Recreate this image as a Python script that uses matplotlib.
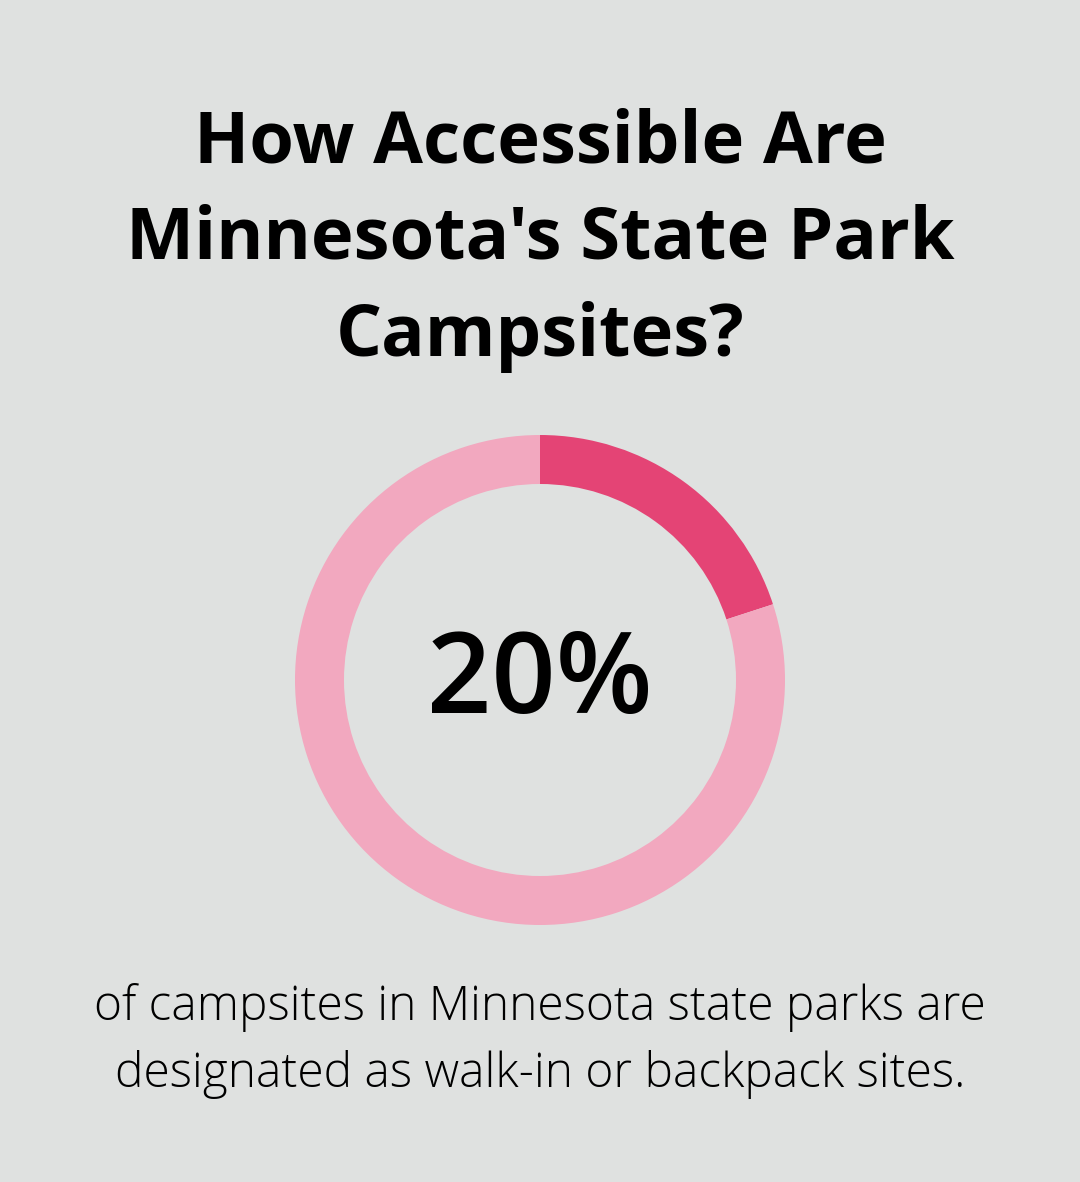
import matplotlib.pyplot as plt

title = "How Accessible Are\nMinnesota's State Park\nCampsites?"
share = [20, 80]
share_colors = ['#e44475', '#f2a8bf']
big_label = "20%"
caption = "of campsites in Minnesota state parks are\ndesignated as walk-in or backpack sites."

bg = '#dfe1e0'

fig = plt.figure(figsize=(10.8, 11.82), dpi=100, facecolor=bg)

fig.text(0.5, 1 - 240 / 1182, title, ha='center', va='center',
         fontsize=52, fontweight='bold', family='Open Sans',
         linespacing=1.45, color='#000000')

ax = fig.add_axes([295 / 1080, 1 - 925 / 1182, 490 / 1080, 490 / 1182])
ax.set_facecolor(bg)
ax.pie(share, colors=share_colors, startangle=90, counterclock=False,
       radius=1, wedgeprops=dict(width=0.2, linewidth=0))
ax.set_xlim(-1, 1)
ax.set_ylim(-1, 1)
ax.set_aspect('equal')
ax.axis('off')

fig.text(0.5, 1 - 684 / 1182, big_label, ha='center', va='center',
         fontsize=81, fontweight='semibold', family='Open Sans', color='#000000')

fig.text(0.5, 1 - 1041 / 1182, caption, ha='center', va='center',
         fontsize=34.5, fontweight='light', family='Open Sans',
         linespacing=1.46, color='#000000')

fig.savefig('out.png', dpi=100, facecolor=bg)
